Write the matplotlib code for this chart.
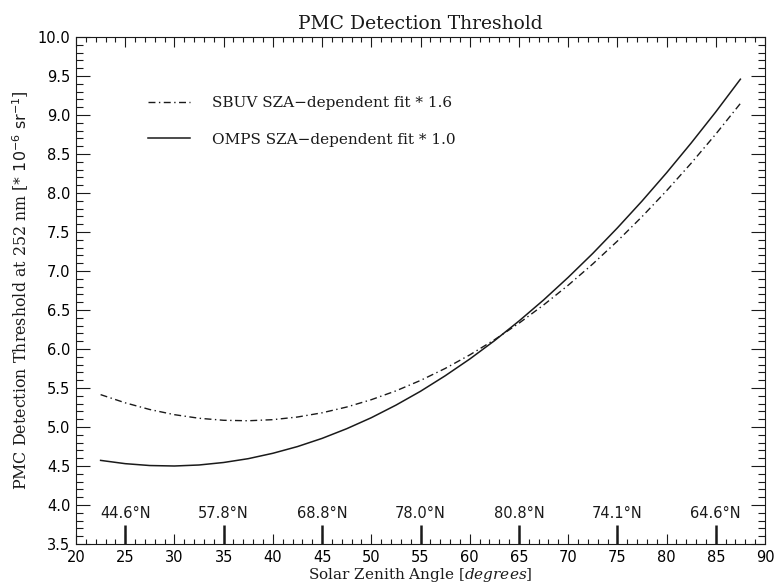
import matplotlib
matplotlib.use("Agg")
import matplotlib.pyplot as plt
import matplotlib.transforms as mtransforms
from matplotlib.ticker import MultipleLocator

# ---- data ----
sza = [22.5, 25, 27.5, 30, 32.5, 35, 37.5, 40, 42.5, 45, 47.5, 50, 52.5, 55,
       57.5, 60, 62.5, 65, 67.5, 70, 72.5, 75, 77.5, 80, 82.5, 85, 87.5]
omps = [4.572, 4.530, 4.506, 4.500, 4.513, 4.545, 4.594, 4.663, 4.749, 4.854,
        4.978, 5.119, 5.280, 5.458, 5.656, 5.871, 6.105, 6.358, 6.628, 6.918,
        7.225, 7.552, 7.896, 8.259, 8.641, 9.040, 9.459]
sbuv = [5.415, 5.310, 5.224, 5.158, 5.112, 5.086, 5.080, 5.094, 5.128, 5.182,
        5.256, 5.350, 5.463, 5.597, 5.750, 5.924, 6.117, 6.330, 6.564, 6.817,
        7.090, 7.383, 7.696, 8.029, 8.382, 8.755, 9.148]
lat_sza = [25, 35, 45, 55, 65, 75, 85]
lat_labels = ["44.6°N", "57.8°N", "68.8°N", "78.0°N", "80.8°N", "74.1°N", "64.6°N"]
xticks = list(range(20, 91, 5))
yticks = [3.5, 4.0, 4.5, 5.0, 5.5, 6.0, 6.5, 7.0, 7.5, 8.0, 8.5, 9.0, 9.5, 10.0]

plt.rcParams['mathtext.fontset'] = 'dejavuserif'
serif = 'DejaVu Serif'
sans = 'DejaVu Sans'
ink = '#1a1a1a'

fig = plt.figure(figsize=(7.74, 5.88), dpi=100)
ax = fig.add_axes([76/774, 1-544/588, (765-76)/774, (544-37)/588])

ax.plot(sza, sbuv, color=ink, lw=1.0, dashes=(5, 2.5, 1, 2.5),
        label="SBUV SZA\u2212dependent fit * 1.6")
ax.plot(sza, omps, color=ink, lw=1.1, label="OMPS SZA\u2212dependent fit * 1.0")

ax.set_xlim(20, 90)
ax.set_ylim(3.5, 10.0)
ax.set_xticks(xticks)
ax.set_yticks(yticks)
ax.set_xticklabels([str(t) for t in xticks], family=sans, fontsize=10.5)
ax.set_yticklabels([f"{t:.1f}" for t in yticks], family=sans, fontsize=10.5)
ax.xaxis.set_minor_locator(MultipleLocator(1))
ax.yaxis.set_minor_locator(MultipleLocator(0.1))
ax.tick_params(axis='both', which='both', direction='in', top=True, right=True,
               color=ink, width=0.8)
ax.tick_params(axis='y', which='major', length=10, pad=4)
ax.tick_params(axis='y', which='minor', length=5)
ax.tick_params(axis='x', which='major', length=7.2, pad=4.5)
ax.tick_params(axis='x', which='minor', length=3.6)
for s in ax.spines.values():
    s.set_linewidth(0.8)
    s.set_color(ink)

# latitude markers
trans = mtransforms.blended_transform_factory(ax.transData, ax.transAxes)
ax.vlines(lat_sza, 0, 0.038, transform=trans, color=ink, lw=1.8)
for xv, lab in zip(lat_sza, lat_labels):
    ax.text(xv, 0.046, lab, transform=trans, ha='center', va='bottom',
            family=sans, fontsize=10.5, color=ink)

ax.set_title("PMC Detection Threshold", family=serif, fontsize=13.5, pad=6, color=ink)
ax.set_xlabel(r"Solar Zenith Angle $[\mathit{degrees}]$", family=serif,
              fontsize=11, labelpad=0.5, color=ink)
ax.set_ylabel(r"PMC Detection Threshold at 252 nm [$\mathsf{*\ 10^{-6}\ sr^{-1}}$]",
              family=serif, fontsize=11.4, labelpad=5, color=ink)

leg = ax.legend(loc='upper left', bbox_to_anchor=(0.1045, 0.883), frameon=False,
                prop={'family': serif, 'size': 11}, handlelength=2.75,
                handletextpad=1.45, labelspacing=1.46, borderpad=0, borderaxespad=0)
for t in leg.get_texts():
    t.set_color(ink)

fig.savefig("out.png", dpi=100)
